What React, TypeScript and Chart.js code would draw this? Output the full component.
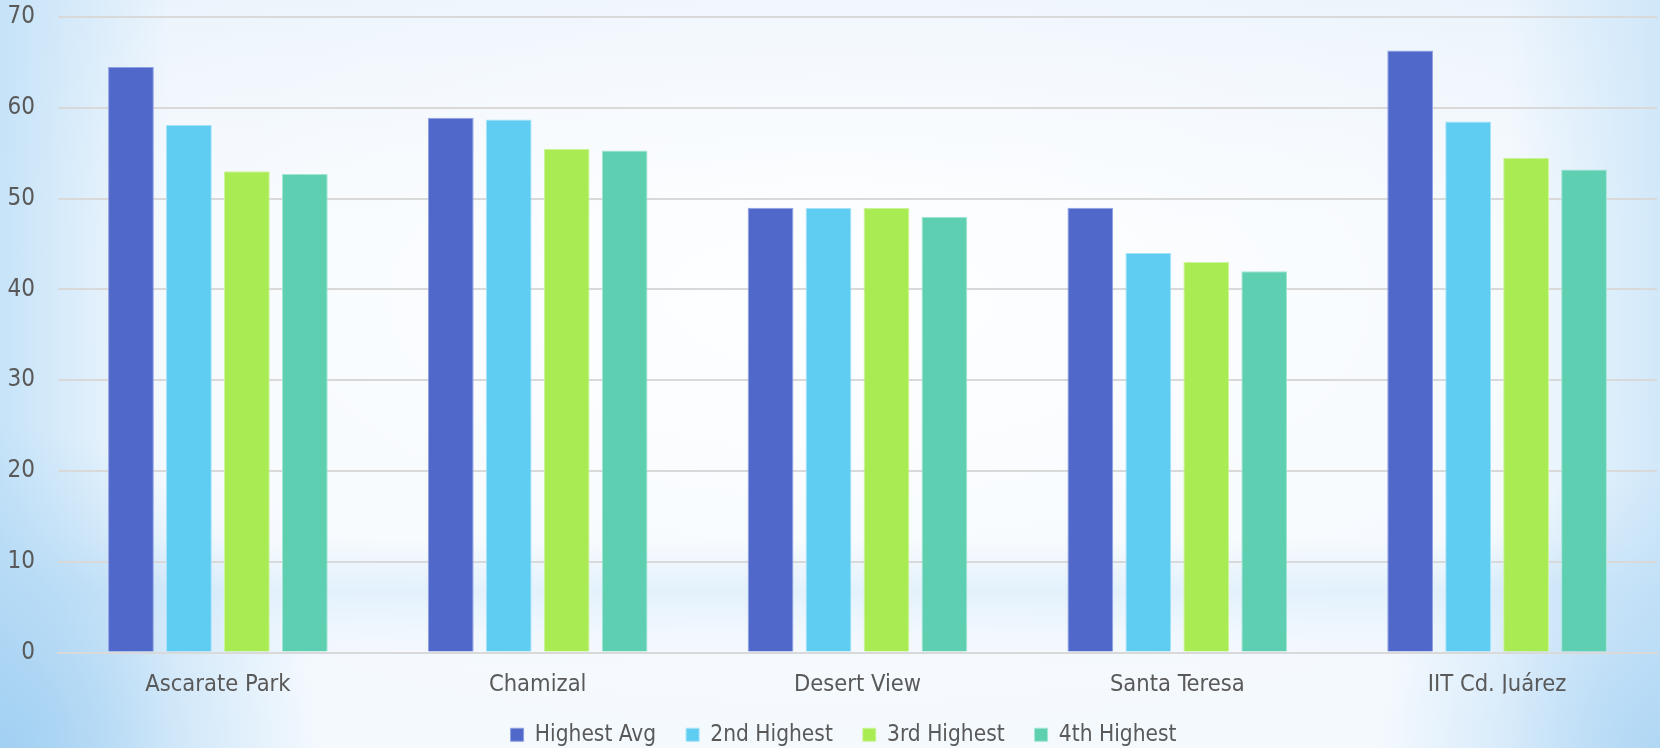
import React, { useEffect, useRef } from "react";
import { Chart, registerables } from "chart.js";

Chart.register(...registerables);

const categories = ["Ascarate Park", "Chamizal", "Desert View", "Santa Teresa", "IIT Cd. Juárez"];
const highestAvg = [64.5, 58.9, 49, 49, 66.3];
const secondHighest = [58.1, 58.7, 49, 44, 58.5];
const thirdHighest = [53, 55.5, 49, 43, 54.5];
const fourthHighest = [52.7, 55.3, 48, 42, 53.2];
const seriesNames = ["Highest Avg", "2nd Highest", "3rd Highest", "4th Highest"];
const seriesColors = ["#4f68c9", "#5fccf2", "#a9eb52", "#5ecfb1"];
const seriesEdges = ["#8fa0e0", "#a6e3f8", "#cdf49a", "#a3e6d4"];

const FONT = '"DejaVu Sans Condensed", "DejaVu Sans", sans-serif';

const legendShift = {
  id: "legendShift",
  afterLayout(c: any) {
    if (c.legend) {
      c.legend.left += 15;
      c.legend.right += 15;
      c.legend.adjustHitBoxes && c.legend.adjustHitBoxes();
    }
  },
};

export default function App() {
  const ref = useRef<HTMLCanvasElement | null>(null);
  useEffect(() => {
    if (!ref.current) return;
    const values = [highestAvg, secondHighest, thirdHighest, fourthHighest];
    const chart = new Chart(ref.current, {
      type: "bar",
      data: {
        labels: categories,
        datasets: values.map((v, i) => ({
          label: seriesNames[i],
          data: v,
          backgroundColor: seriesColors[i],
          borderColor: seriesEdges[i],
          borderWidth: 1,
          categoryPercentage: 0.725,
          barPercentage: 0.79,
        })),
      },
      plugins: [legendShift],
      options: {
        animation: false,
        responsive: false,
        maintainAspectRatio: false,
        layout: { padding: { top: 17, right: 3, left: 0, bottom: -8 } },
        plugins: {
          tooltip: { enabled: false },
          legend: {
            position: "bottom",
            labels: {
              boxWidth: 13,
              boxHeight: 13,
              padding: 30,
              color: "#595959",
              font: { family: FONT, size: 22.5 },
            },
          },
        },
        scales: {
          x: {
            grid: { display: false, drawTicks: false },
            border: { display: true, color: "#d9d9d9", width: 2 },
            ticks: { color: "#595959", font: { family: FONT, size: 23.5 }, padding: 18 },
            afterFit: (s: any) => {
              s.height = 41;
            },
          },
          y: {
            min: 0,
            max: 70,
            grid: {
              color: "#d9d9d9",
              lineWidth: 2,
              drawTicks: true,
              tickLength: 23,
              tickColor: "rgba(0,0,0,0)",
            },
            border: { display: false },
            ticks: {
              stepSize: 10,
              color: "#595959",
              font: { family: FONT, size: 24 },
              padding: 0,
            },
            afterFit: (s: any) => {
              s.width = 58;
            },
          },
        },
      },
    });
    return () => chart.destroy();
  }, []);
  return (
    <div
      style={{
        position: "fixed",
        left: 0,
        top: 0,
        width: 1660,
        height: 748,
        backgroundColor: "#f4f9fe",
        backgroundImage: [
          "radial-gradient(circle at 0% 100%, rgba(160,207,242,0.95) 0px, rgba(160,207,242,0) 320px)",
          "radial-gradient(circle at 100% 100%, rgba(170,212,244,0.85) 0px, rgba(170,212,244,0) 280px)",
          "linear-gradient(90deg, rgba(198,227,248,1) 0px, rgba(198,227,248,0) 170px)",
          "linear-gradient(270deg, rgba(205,230,249,0.9) 0px, rgba(205,230,249,0) 150px)",
          "linear-gradient(180deg, rgba(214,234,250,0) 72%, rgba(208,232,250,0.5) 79%, rgba(225,240,252,0.3) 84%, rgba(244,249,254,0) 89%)",
          "radial-gradient(ellipse 60% 60% at 50% 40%, rgba(255,255,255,0.9) 0%, rgba(255,255,255,0) 100%)",
          "linear-gradient(180deg, #eaf3fc 0%, #f4f9fe 30%, #f4f9fe 100%)",
        ].join(", "),
      }}
    >
      <canvas ref={ref} width={1660} height={748} />
    </div>
  );
}
